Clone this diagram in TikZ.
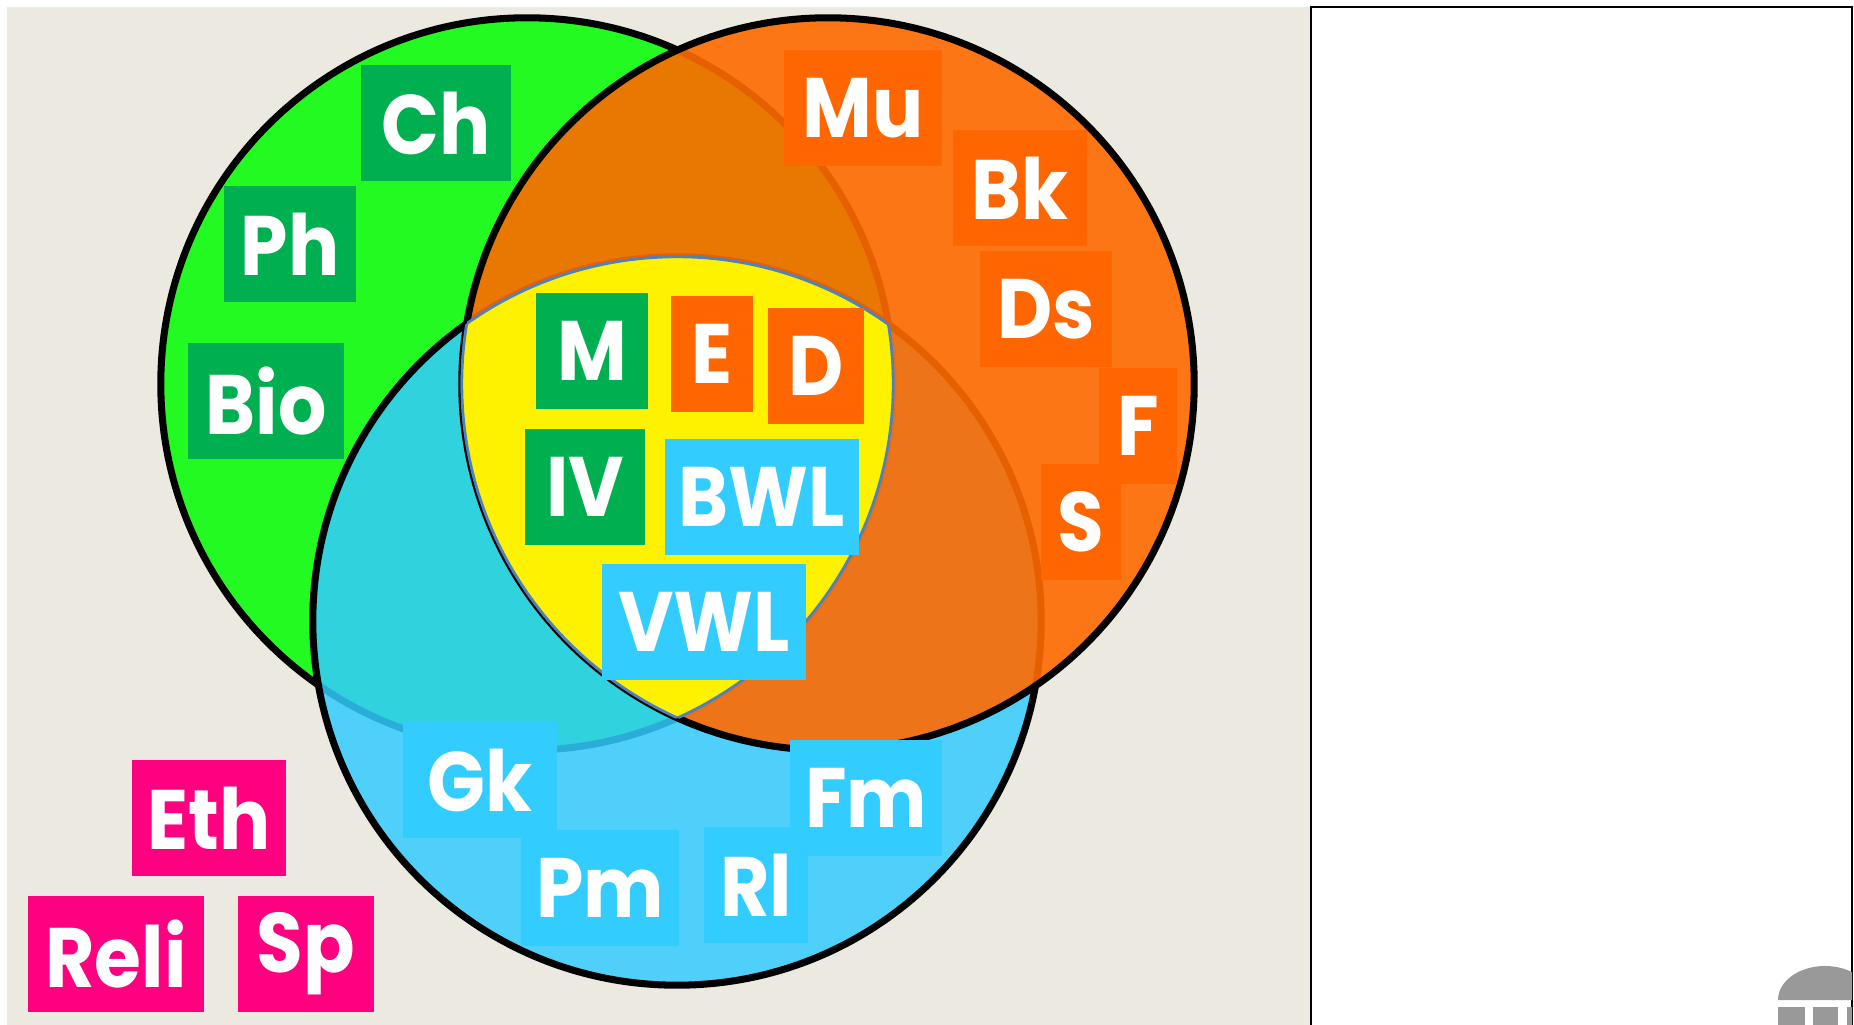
\documentclass[tikz,border=0pt]{standalone}
\usepackage{fontspec}
\setmainfont{Poppins}[FakeStretch=0.9]
\usetikzlibrary{positioning}
\definecolor{paper}{RGB}{236,234,224}
\definecolor{ringgreen}{RGB}{34,250,34}
\definecolor{ringorange}{RGB}{255,106,0}
\definecolor{ringblue}{RGB}{51,204,255}
\definecolor{boxgreen}{RGB}{0,176,80}
\definecolor{boxorange}{RGB}{255,102,0}
\definecolor{boxblue}{RGB}{51,204,255}
\definecolor{boxpink}{RGB}{255,0,128}
\definecolor{edge}{RGB}{79,129,189}
\definecolor{logogrey}{RGB}{153,153,153}

\begin{document}
\begin{tikzpicture}[%
  x=0.01cm, y=-0.01cm,
  ring/.style={draw=black, line width=2pt},
  fach/.style={text=white, inner sep=0pt, minimum height=1.16cm,
    font=\bfseries\fontsize{24}{24}\selectfont},
  nat/.style={fach, fill=boxgreen},
  kunst/.style={fach, fill=boxorange},
  gesell/.style={fach, fill=boxblue},
  frei/.style={fach, fill=boxpink},
]

  \useasboundingbox (0,0) rectangle (1854,1025);
  \fill[paper] (7,7) rectangle (1311,1025);

  % side panel
  \fill[white] (1311,7) rectangle (1852,1025);
  \draw[line width=0.6pt] (1311,1030) -- (1311,7) -- (1852,7) -- (1852,1030);
  \begin{scope}
    \clip (1311,7) rectangle (1852,1025);
    \fill[logogrey] (1778,1000) arc[start angle=180, end angle=0,
      x radius=0.47cm, y radius=0.34cm] -- cycle;
    \fill[logogrey] (1778,1007) rectangle (1805,1030);
    \fill[logogrey] (1813,1007) rectangle (1838,1030);
    \fill[logogrey] (1847,1007) rectangle (1870,1030);
  \end{scope}

  % the three rings
  \coordinate (cg) at (527,384);
  \coordinate (co) at (828,384);
  \coordinate (cb) at (677,621);
  \draw[ring, fill=ringgreen] (cg) circle[radius=3.66cm];
  \draw[ring, fill=ringblue, fill opacity=0.85] (cb) circle[radius=3.64cm];
  \draw[ring, fill=ringorange, fill opacity=0.9] (co) circle[radius=3.66cm];

  % common core
  \begin{scope}
    \clip (cg) circle[radius=3.66cm];
    \clip (co) circle[radius=3.66cm];
    \fill[yellow] (cb) circle[radius=3.64cm];
  \end{scope}
  \begin{scope}
    \clip (cg) circle[radius=3.66cm];
    \clip (co) circle[radius=3.66cm];
    \draw[edge, line width=0.8pt] (cb) circle[radius=3.64cm];
  \end{scope}
  \begin{scope}
    \clip (cg) circle[radius=3.66cm];
    \clip (cb) circle[radius=3.64cm];
    \draw[edge, line width=0.8pt] (co) circle[radius=3.66cm];
  \end{scope}
  \begin{scope}
    \clip (co) circle[radius=3.66cm];
    \clip (cb) circle[radius=3.64cm];
    \draw[edge, line width=0.8pt] (cg) circle[radius=3.66cm];
  \end{scope}

  % green subjects
  \node[nat, minimum width=1.50cm] (ch)  at (436,123) {Ch};
  \node[nat, minimum width=1.31cm] (ph)  at (290,244) {Ph};
  \node[nat, minimum width=1.56cm] (bio) at (266,401) {Bio};
  \node[nat, minimum width=1.12cm] (m)   at (592,351) {M};
  \node[nat, minimum width=1.19cm] (iv)  at (585,487) {IV};

  % orange subjects
  \node[kunst, minimum width=0.81cm] (e)  at (712,354) {E};
  \node[kunst, minimum width=0.95cm] (d)  at (816,366) {D};
  \node[kunst, minimum width=1.58cm] (mu) at (863,108) {Mu};
  \node[kunst, minimum width=1.34cm] (bk) at (1020,188) {Bk};
  \node[kunst, minimum width=1.31cm] (ds) at (1046,309) {Ds};
  \node[kunst, minimum width=0.77cm] (f)  at (1138,426) {F};
  \node[kunst, minimum width=0.80cm] (s)  at (1081,522) {S};

  % blue subjects
  \node[gesell, minimum width=1.93cm] (bwl) at (762,497) {BWL};
  \node[gesell, minimum width=2.03cm] (vwl) at (704,622) {VWL};
  \node[gesell, minimum width=1.54cm] (gk)  at (480,780) {Gk};
  \node[gesell, minimum width=1.52cm] (fm)  at (866,798) {Fm};
  \node[gesell, minimum width=1.58cm] (pm)  at (600,888) {Pm};
  \node[gesell, minimum width=1.04cm] (rl)  at (756,885) {Rl};

  % outside the rings
  \node[frei, minimum width=1.54cm] (eth)  at (209,818) {Eth};
  \node[frei, minimum width=1.75cm] (reli) at (116,954) {Reli};
  \node[frei, minimum width=1.35cm] (sp)   at (306,954) {Sp};

\end{tikzpicture}
\end{document}
